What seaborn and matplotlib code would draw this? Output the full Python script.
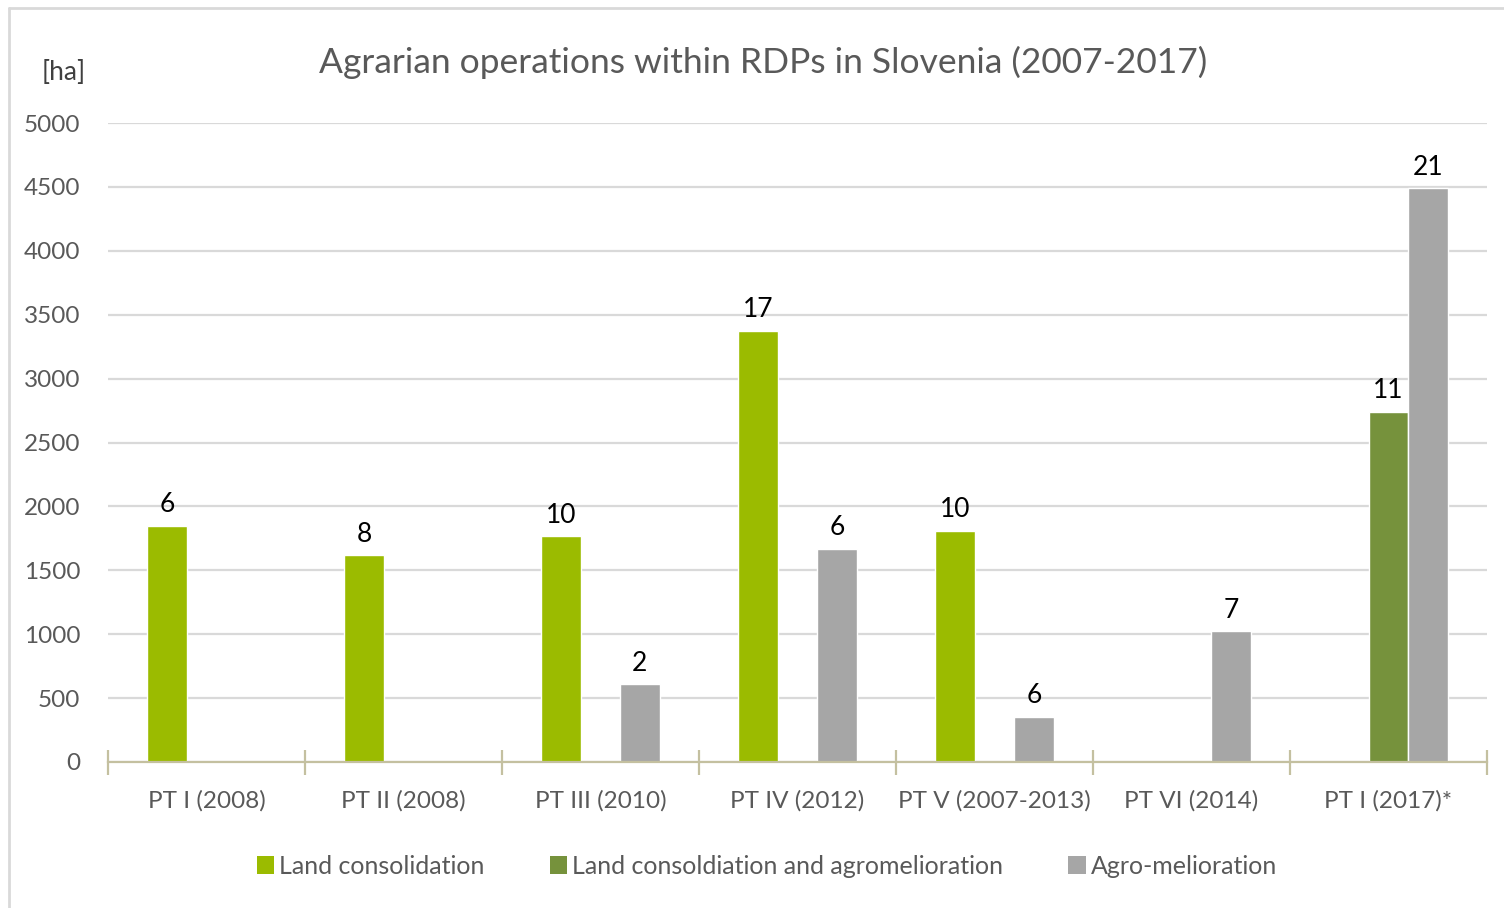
import matplotlib.pyplot as plt
import seaborn as sns
import pandas as pd
import numpy as np
from matplotlib.lines import Line2D
from matplotlib.patches import Patch

# Datos (superficie en ha y número de operaciones)
proyectos = ['PT I (2008)', 'PT II (2008)', 'PT III (2010)', 'PT IV (2012)',
             'PT V (2007-2013)', 'PT VI (2014)', 'PT I (2017)*']
tipos = ['Land consolidation', 'Land consoldiation and agromelioration', 'Agro-melioration']

ha_consolidacion = [1850, 1620, 1765, 3375, 1810, np.nan, np.nan]
ha_mixto = [np.nan, np.nan, np.nan, np.nan, np.nan, np.nan, 2740]
ha_melioracion = [np.nan, np.nan, 610, 1670, 355, 1025, 4490]

n_consolidacion = [6, 8, 10, 17, 10, np.nan, np.nan]
n_mixto = [np.nan, np.nan, np.nan, np.nan, np.nan, np.nan, 11]
n_melioracion = [np.nan, np.nan, 2, 6, 6, 7, 21]

colores = ['#9BBB00', '#76923C', '#A6A6A6']

filas = []
for tipo, has, ns in zip(tipos, [ha_consolidacion, ha_mixto, ha_melioracion],
                         [n_consolidacion, n_mixto, n_melioracion]):
    for p, h, n in zip(proyectos, has, ns):
        if not np.isnan(h):
            filas.append({'proyecto': p, 'tipo': tipo, 'ha': h, 'n': int(n)})
df = pd.DataFrame(filas)

sns.set_style('white')
plt.rcParams['font.family'] = ['Lato', 'DejaVu Sans']

fig = plt.figure(figsize=(15.04, 9.08), dpi=100)
ax = fig.add_axes([108 / 1504, 1 - 762 / 908, (1487 - 108) / 1504, (762 - 123) / 908])

sns.barplot(data=df, x='proyecto', y='ha', hue='tipo', order=proyectos, hue_order=tipos,
            palette=colores, width=0.6, errorbar=None, ax=ax, legend=False, saturation=1)

# Etiquetas con el número de operaciones
for cont, tipo in zip(ax.containers, tipos):
    sub = df[df['tipo'] == tipo].set_index('proyecto').reindex(proyectos).dropna(subset=['ha'])
    ax.bar_label(cont, labels=[str(int(v)) for v in sub['n']], padding=6,
                 fontsize=19, color='black')

ax.set_ylim(0, 5000)
ax.set_xlim(-0.5, len(proyectos) - 0.5)
ax.set_yticks(range(0, 5001, 500))
ax.yaxis.grid(True, color='#D9D9D9', linewidth=1.6)
ax.set_axisbelow(True)
ax.set_xlabel('')
ax.set_ylabel('')

for s in ['left', 'right', 'top']:
    ax.spines[s].set_visible(False)
ax.spines['bottom'].set_color('#C4C0A0')
ax.spines['bottom'].set_linewidth(1.6)

ax.tick_params(axis='y', length=0, labelsize=17.5, labelcolor='#595959', pad=20)
ax.tick_params(axis='x', which='major', length=0, labelsize=17.5, labelcolor='#595959', pad=20)
ax.set_xticks(np.arange(-0.5, len(proyectos)), minor=True)
ax.tick_params(axis='x', which='minor', bottom=True, length=18, width=1.6, color='#C4C0A0',
               direction='inout')

fig.text(763 / 1504, 1 - 62 / 908, 'Agrarian operations within RDPs in Slovenia (2007-2017)',
         ha='center', va='center', fontsize=25.5, color='#595959')
fig.text(64 / 1504, 1 - 72 / 908, '[ha]', ha='center', va='center', fontsize=19, color='#404040')

handles = [Patch(facecolor=c, edgecolor='none') for c in colores]
fig.legend(handles, tipos, loc='center', bbox_to_anchor=(767 / 1504, 1 - 866 / 908), ncol=3,
           frameon=False, fontsize=18, labelcolor='#595959', handlelength=0.7, handleheight=0.7,
           handletextpad=0.2, columnspacing=2.6)

# Marco exterior
fig.add_artist(Line2D([9 / 1504, 9 / 1504], [0, 1 - 8 / 908], color='#D9D9D9', linewidth=2,
                      transform=fig.transFigure))
fig.add_artist(Line2D([9 / 1504, 1], [1 - 8 / 908, 1 - 8 / 908], color='#D9D9D9', linewidth=2,
                      transform=fig.transFigure))

fig.savefig('out.png', dpi=100)
